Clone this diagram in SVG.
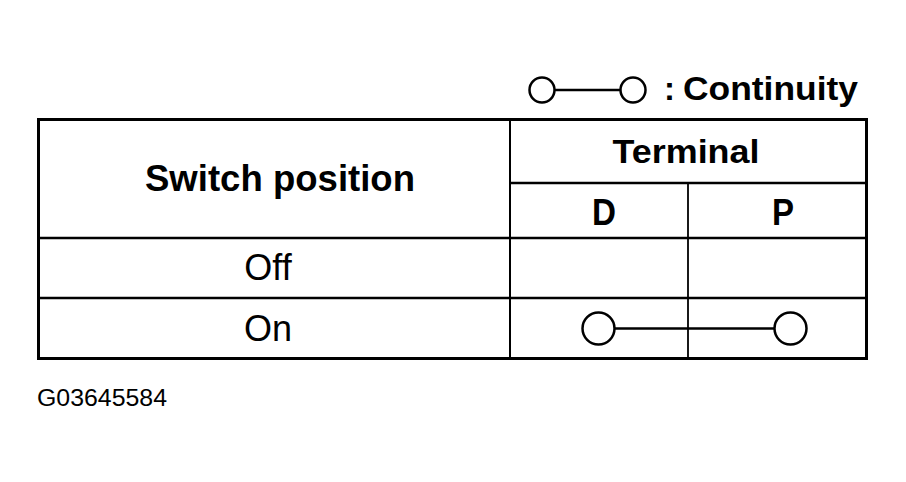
<svg xmlns="http://www.w3.org/2000/svg" width="906" height="482" viewBox="0 0 906 482">
<style>
.b{font-family:"Liberation Sans",Arial,sans-serif;font-weight:bold;fill:#000}
.r{font-family:"Liberation Sans",Arial,sans-serif;fill:#000}
.ln{stroke:#000;fill:none}
.c{stroke:#000;stroke-width:2.5;fill:#fff}
</style>
<rect width="906" height="482" fill="#fff"/>
<g id="legend">
<line class="ln" x1="555" y1="90" x2="620" y2="90" stroke-width="2.5"/>
<circle class="c" cx="542" cy="90" r="12.5"/>
<circle class="c" cx="633" cy="90" r="12.5"/>
<text class="b" x="664" y="100" font-size="33">:</text>
<text class="b" x="683" y="100" font-size="33" textLength="175" lengthAdjust="spacingAndGlyphs">Continuity</text>
</g>
<g id="table">
<rect class="ln" x="38.5" y="119.5" width="828" height="239" stroke-width="3"/>
<line class="ln" x1="510" y1="119" x2="510" y2="359" stroke-width="2"/>
<line class="ln" x1="510" y1="183" x2="867" y2="183" stroke-width="2.5"/>
<line class="ln" x1="688" y1="183" x2="688" y2="359" stroke-width="1.8"/>
<line class="ln" x1="38" y1="238" x2="867" y2="238" stroke-width="2.5"/>
<line class="ln" x1="38" y1="298" x2="867" y2="298" stroke-width="2.5"/>
</g>
<g id="headers">
<text class="b" x="280" y="191" font-size="36" text-anchor="middle" textLength="270" lengthAdjust="spacingAndGlyphs">Switch position</text>
<text class="b" x="686" y="163" font-size="33" text-anchor="middle" textLength="147" lengthAdjust="spacingAndGlyphs">Terminal</text>
<text class="b" x="604" y="225" font-size="37" text-anchor="middle" textLength="24" lengthAdjust="spacingAndGlyphs">D</text>
<text class="b" x="783" y="225" font-size="37" text-anchor="middle" textLength="22" lengthAdjust="spacingAndGlyphs">P</text>
</g>
<g id="row-off">
<text class="r" x="268" y="280" font-size="36" text-anchor="middle">Off</text>
</g>
<g id="row-on">
<text class="r" x="268" y="341" font-size="36" text-anchor="middle">On</text>
</g>
<g id="connectors">
<line class="ln" x1="615" y1="328.5" x2="774" y2="328.5" stroke-width="2.5"/>
<circle class="c" cx="598.5" cy="328.5" r="16"/>
<circle class="c" cx="790.5" cy="328.5" r="16"/>
</g>
<g id="caption">
<text class="r" x="37" y="406" font-size="23" textLength="130" lengthAdjust="spacingAndGlyphs">G03645584</text>
</g>
</svg>
